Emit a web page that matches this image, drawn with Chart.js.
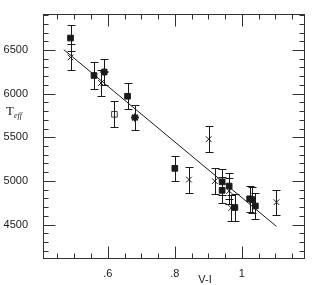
<!DOCTYPE html>
<html><head><meta charset="utf-8">
<script src="https://cdn.jsdelivr.net/npm/chart.js@4/dist/chart.umd.min.js"></script>
<style>html,body{margin:0;padding:0;background:#fff}#wrap{width:313px;height:285px}</style>
</head><body><div id="wrap"><canvas id="c"></canvas></div>
<script>
// Filled squares
const sqX = [0.489, 0.559, 0.659, 0.800, 0.941, 0.941, 0.962, 0.979, 1.023, 1.031, 1.040];
const sqY = [6637, 6208, 5970, 5144, 4989, 4892, 4941, 4695, 4795, 4785, 4712];
const sqErr = [150, 150, 150, 145, 150, 150, 150, 150, 150, 150, 150];
// Crosses
const crX = [0.489, 0.580, 0.901, 0.842, 0.919, 0.962, 0.968, 1.103];
const crY = [6415, 6122, 5478, 5015, 4997, 4885, 4690, 4756];
const crErr = [150, 150, 150, 148, 148, 150, 150, 142];
// Stars
const stX = [0.590, 0.681];
const stY = [6248, 5726];
const stErr = [150, 148];
// Open square
const opX = [0.620];
const opY = [5763];
const opErr = [148];
// Fit line endpoints
const fitX = [0.469, 1.103];
const fitY = [6504, 4478];
// Axis ticks
const xMajor = [0.6, 0.8, 1.0];
const xMinor = [0.45,0.5,0.55,0.65,0.7,0.75,0.85,0.9,0.95,1.05,1.1,1.15];
const yMajor = [4500, 5000, 5500, 6000, 6500];
const yMinor = [4200,4300,4400,4600,4700,4800,4900,5100,5200,5300,5400,5600,5700,5800,5900,6100,6200,6300,6400,6600,6700,6800,6900];
const xRange = [0.407, 1.188];
const yRange = [4105, 6917];
const xTitle = 'V-I';

const pts = (xs, ys, es) => xs.map((x, i) => ({x, y: ys[i], e: es ? es[i] : 0}));
const ink = '#1a1a1a';

const errPlugin = {
  id: 'err',
  afterDatasetsDraw(chart) {
    const ctx = chart.ctx, xs = chart.scales.x, ys = chart.scales.y;
    ctx.save();
    ctx.strokeStyle = ink; ctx.lineWidth = 1;
    chart.data.datasets.forEach(ds => {
      if (!ds.errBars) return;
      ds.data.forEach(p => {
        const px = Math.round(xs.getPixelForValue(p.x)) + 0.5;
        const t = Math.round(ys.getPixelForValue(p.y + p.e)) + 0.5;
        const b = Math.round(ys.getPixelForValue(p.y - p.e)) + 0.5;
        ctx.beginPath();
        ctx.moveTo(px, t); ctx.lineTo(px, b);
        ctx.moveTo(px - 4, t); ctx.lineTo(px + 4, t);
        ctx.moveTo(px - 4, b); ctx.lineTo(px + 4, b);
        ctx.stroke();
      });
    });
    ctx.restore();
  }
};

const frame = {
  id: 'frame',
  afterDraw(chart) {
    const ctx = chart.ctx, a = chart.chartArea, xs = chart.scales.x, ys = chart.scales.y;
    ctx.save();
    ctx.strokeStyle = '#333'; ctx.lineWidth = 1;
    const L = Math.round(a.left) + 0.5, R = Math.round(a.right) - 0.5, T = Math.round(a.top) + 0.5, B = Math.round(a.bottom) - 0.5;
    ctx.strokeRect(L, T, R - L, B - T);
    ctx.beginPath();
    const xt = (vals, len) => vals.forEach(v => {
      const p = Math.round(xs.getPixelForValue(v)) + 0.5;
      ctx.moveTo(p, B); ctx.lineTo(p, B - len);
      ctx.moveTo(p, T); ctx.lineTo(p, T + len);
    });
    const yt = (vals, len) => vals.forEach(v => {
      const p = Math.round(ys.getPixelForValue(v)) + 0.5;
      ctx.moveTo(L, p); ctx.lineTo(L + len, p);
      ctx.moveTo(R, p); ctx.lineTo(R - len, p);
    });
    xt(xMajor, 12); xt(xMinor, 5); yt(yMajor, 12); yt(yMinor, 5);
    ctx.stroke();
    // titles
    ctx.fillStyle = ink;
    ctx.font = '11px "Liberation Sans", Arial, sans-serif';
    ctx.textAlign = 'center'; ctx.textBaseline = 'middle';
    ctx.fillText(xTitle, xs.getPixelForValue(0.89), 280);
    ctx.font = '13px "Liberation Serif", "DejaVu Serif", serif';
    ctx.textAlign = 'left';
    ctx.fillText('T', 6, 112);
    ctx.font = 'italic 8px "Liberation Serif", "DejaVu Serif", serif';
    ctx.fillText('eff', 14, 116);
    ctx.restore();
  }
};

new Chart(document.getElementById('c'), {
  type: 'scatter',
  data: {
    datasets: [
      { type: 'line', data: pts(fitX, fitY), borderColor: ink, borderWidth: 1, pointRadius: 0, fill: false },
      { data: pts(sqX, sqY, sqErr), errBars: true, pointStyle: 'rect', pointRadius: 4, backgroundColor: ink, borderColor: ink, borderWidth: 1 },
      { data: pts(crX, crY, crErr), errBars: true, pointStyle: 'crossRot', pointRadius: 4, borderColor: ink, borderWidth: 1 },
      { data: pts(stX, stY, stErr), errBars: true, pointStyle: 'star', pointRadius: 4, borderColor: ink, borderWidth: 2 },
      { data: pts(opX, opY, opErr), errBars: true, pointStyle: 'rect', pointRadius: 4, backgroundColor: '#fff', borderColor: '#444', borderWidth: 1 }
    ]
  },
  options: {
    responsive: true, maintainAspectRatio: false, animation: false,
    layout: { padding: { left: 0, top: 5, right: 8, bottom: 0 } },
    plugins: { legend: { display: false }, tooltip: { enabled: false } },
    scales: {
      x: {
        type: 'linear', min: xRange[0], max: xRange[1],
        afterBuildTicks: s => { s.ticks = xMajor.map(v => ({ value: v })); },
        afterFit: s => { s.height = 26; },
        grid: { display: false },
        border: { display: false },
        ticks: { padding: 0, color: ink, font: { family: '"Liberation Sans", Arial, sans-serif', size: 11 },
          callback: v => (Math.abs(v - 1) < 1e-6 ? '1' : String(Math.round(v * 10) / 10).replace(/^0/, '')) }
      },
      y: {
        type: 'linear', min: yRange[0], max: yRange[1],
        afterBuildTicks: s => { s.ticks = yMajor.map(v => ({ value: v })); },
        afterFit: s => { s.width = 43; },
        grid: { display: false },
        border: { display: false },
        ticks: { padding: 7, color: ink, font: { family: '"Liberation Sans", Arial, sans-serif', size: 11 },
          callback: v => String(v) }
      }
    }
  },
  plugins: [errPlugin, frame]
});
</script></body></html>
